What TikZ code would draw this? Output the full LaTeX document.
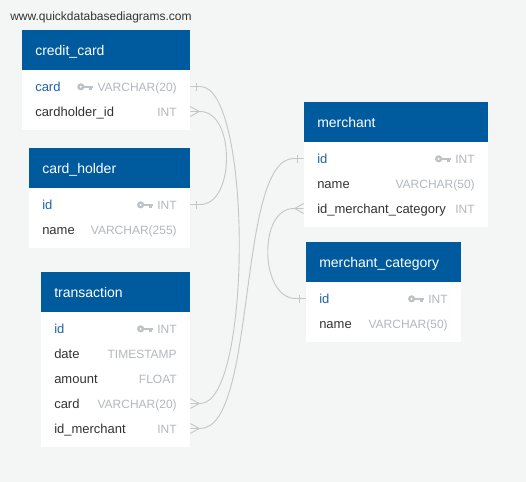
\documentclass[tikz,border=0pt]{standalone}
\usepackage{fontspec}
\setmainfont{Liberation Sans}
\usetikzlibrary{fit}
\definecolor{bgcol}{HTML}{F4F6F6}
\definecolor{hdrblue}{HTML}{005A9E}
\definecolor{pkblue}{HTML}{1E64A6}
\definecolor{fldcol}{HTML}{333333}
\definecolor{typcol}{HTML}{B3B8BD}
\definecolor{keygray}{HTML}{BDC2C6}
\definecolor{relcol}{HTML}{C6C6C6}
\definecolor{urlcol}{HTML}{333333}
\tikzset{
  hdr/.style={fill=hdrblue, draw=none, inner sep=0pt},
  tbody/.style={fill=white, draw=none, inner sep=0pt},
  rowbox/.style={draw=none, inner sep=0pt},
  ttl/.style={anchor=base west, inner sep=0pt, text=white, font=\fontsize{10.5}{12}\selectfont},
  fld/.style={anchor=base west, inner sep=0pt, text=fldcol, font=\fontsize{9.75}{12}\selectfont},
  pkfld/.style={fld, text=pkblue},
  typ/.style={anchor=base east, inner sep=0pt, text=typcol, font=\fontsize{9}{11}\selectfont},
  rel/.style={draw=relcol, line width=0.7pt},
  pkkey/.pic={
    \fill[keygray] (-12.5,0) circle[radius=2.7pt];
    \fill[white] (-12.5,0) circle[radius=0.8pt];
    \fill[keygray] (-10,-1.3) rectangle (0,1.3);
    \fill[keygray] (-4.5,0) rectangle (-1.5,3.6);
  },
  onemk/.pic={\draw[rel] (6,-4) -- (6,4);},
  manymk/.pic={\draw[rel] (0,-5) -- (9,0) -- (0,5);},
}
\begin{document}
\begin{tikzpicture}[x=0.75pt,y=-0.75pt]
\useasboundingbox (0,0) rectangle (526,482);
\fill[bgcol] (0,0) rectangle (526,482);

\node[anchor=base west, inner sep=0pt, text=urlcol, font=\fontsize{9}{11}\selectfont] (url) at (10,20) {www.quickdatabasediagrams.com};

% ---------- credit_card ----------
\node[tbody, fit={(22,70) (190,130)}] (cc-b) {};
\node[hdr, fit={(22,30) (190,70)}] (cc-h) {};
\node[ttl] (cc-t) at (35,55) {credit\_card};
\node[rowbox, fit={(22,74) (190,99)}] (cc-card) {};
\node[rowbox, fit={(22,99) (190,124)}] (cc-chid) {};
\node[pkfld] (cc-card-n) at (35,91.5) {card};
\node[typ] (cc-card-t) at (177,91.5) {VARCHAR(20)};
\pic at ([xshift=-3pt,yshift=3.5pt]cc-card-t.base west) {pkkey};
\node[fld] (cc-chid-n) at (35,116.5) {cardholder\_id};
\node[typ] (cc-chid-t) at (177,116.5) {INT};

% ---------- card_holder ----------
\node[tbody, fit={(29,188) (190,248)}] (ch-b) {};
\node[hdr, fit={(29,148) (190,188)}] (ch-h) {};
\node[ttl] (ch-t) at (42,173) {card\_holder};
\node[rowbox, fit={(29,192) (190,217)}] (ch-id) {};
\node[rowbox, fit={(29,217) (190,242)}] (ch-name) {};
\node[pkfld] (ch-id-n) at (42,209.5) {id};
\node[typ] (ch-id-t) at (177,209.5) {INT};
\pic at ([xshift=-3pt,yshift=3.5pt]ch-id-t.base west) {pkkey};
\node[fld] (ch-name-n) at (42,234.5) {name};
\node[typ] (ch-name-t) at (177,234.5) {VARCHAR(255)};

% ---------- transaction ----------
\node[tbody, fit={(41,312) (190,447)}] (tr-b) {};
\node[hdr, fit={(41,272) (190,312)}] (tr-h) {};
\node[ttl] (tr-t) at (54,297) {transaction};
\node[rowbox, fit={(41,316) (190,341)}] (tr-id) {};
\node[rowbox, fit={(41,341) (190,366)}] (tr-date) {};
\node[rowbox, fit={(41,366) (190,391)}] (tr-amt) {};
\node[rowbox, fit={(41,391) (190,416)}] (tr-card) {};
\node[rowbox, fit={(41,416) (190,441)}] (tr-idm) {};
\node[pkfld] (tr-id-n) at (54,333.5) {id};
\node[typ] (tr-id-t) at (177,333.5) {INT};
\pic at ([xshift=-3pt,yshift=3.5pt]tr-id-t.base west) {pkkey};
\node[fld] (tr-date-n) at (54,358.5) {date};
\node[typ] (tr-date-t) at (177,358.5) {TIMESTAMP};
\node[fld] (tr-amt-n) at (54,383.5) {amount};
\node[typ] (tr-amt-t) at (177,383.5) {FLOAT};
\node[fld] (tr-card-n) at (54,408.5) {card};
\node[typ] (tr-card-t) at (177,408.5) {VARCHAR(20)};
\node[fld] (tr-idm-n) at (54,433.5) {id\_merchant};
\node[typ] (tr-idm-t) at (177,433.5) {INT};

% ---------- merchant ----------
\node[tbody, fit={(304,142) (488,227)}] (m-b) {};
\node[hdr, fit={(304,102) (488,142)}] (m-h) {};
\node[ttl] (m-t) at (317,127) {merchant};
\node[rowbox, fit={(304,146) (488,171)}] (m-id) {};
\node[rowbox, fit={(304,171) (488,196)}] (m-name) {};
\node[rowbox, fit={(304,196) (488,221)}] (m-cat) {};
\node[pkfld] (m-id-n) at (317,163.5) {id};
\node[typ] (m-id-t) at (475,163.5) {INT};
\pic at ([xshift=-3pt,yshift=3.5pt]m-id-t.base west) {pkkey};
\node[fld] (m-name-n) at (317,188.5) {name};
\node[typ] (m-name-t) at (475,188.5) {VARCHAR(50)};
\node[fld] (m-cat-n) at (317,213.5) {id\_merchant\_category};
\node[typ] (m-cat-t) at (475,213.5) {INT};

% ---------- merchant_category ----------
\node[tbody, fit={(306,282) (461,342)}] (mc-b) {};
\node[hdr, fit={(306,242) (461,282)}] (mc-h) {};
\node[ttl] (mc-t) at (319,267) {merchant\_category};
\node[rowbox, fit={(306,286) (461,311)}] (mc-id) {};
\node[rowbox, fit={(306,311) (461,336)}] (mc-name) {};
\node[pkfld] (mc-id-n) at (319,303.5) {id};
\node[typ] (mc-id-t) at (448,303.5) {INT};
\pic at ([xshift=-3pt,yshift=3.5pt]mc-id-t.base west) {pkkey};
\node[fld] (mc-name-n) at (319,328.5) {name};
\node[typ] (mc-name-t) at (448,328.5) {VARCHAR(50)};

% ---------- relationships ----------
% credit_card.card (one) -- transaction.card (many)
\draw[rel] (cc-card.east) -- ++(10,0) .. controls +(52,0) and +(52,0) .. ([xshift=7.5pt]tr-card.east) -- (tr-card.east);
\pic at (cc-card.east) {onemk};
\pic at (tr-card.east) {manymk};
% credit_card.cardholder_id (many) -- card_holder.id (one)
\draw[rel] (cc-chid.east) -- ++(10,0) .. controls +(35,0) and +(35,0) .. ([xshift=7.5pt]ch-id.east) -- (ch-id.east);
\pic at (cc-chid.east) {manymk};
\pic at (ch-id.east) {onemk};
% merchant.id_merchant_category (many) -- merchant_category.id (one)
\draw[rel] (m-cat.west) -- ++(-10,0) .. controls +(-36,0) and +(-36,0) .. ([xshift=-7.5pt]mc-id.west) -- (mc-id.west);
\pic[xscale=-1] at (m-cat.west) {manymk};
\pic[xscale=-1] at (mc-id.west) {onemk};
% transaction.id_merchant (many) -- merchant.id (one)
\draw[rel] (tr-idm.east) -- ++(10,0) .. controls +(57,0) and +(-57,0) .. ([xshift=-7.5pt]m-id.west) -- (m-id.west);
\pic at (tr-idm.east) {manymk};
\pic[xscale=-1] at (m-id.west) {onemk};
\end{tikzpicture}
\end{document}
